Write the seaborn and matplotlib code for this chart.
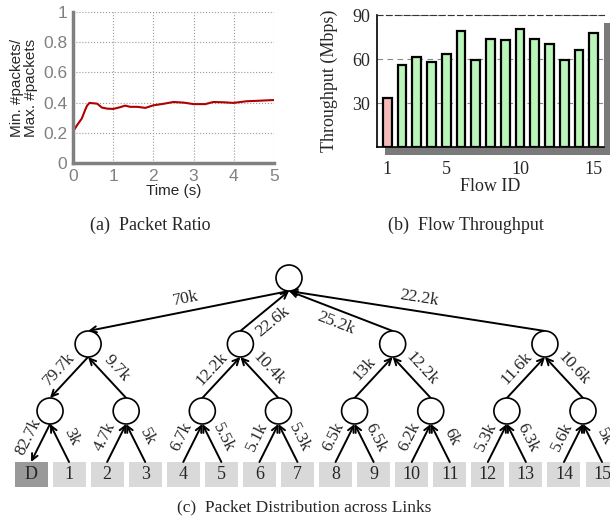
import numpy as np
import seaborn as sns
import matplotlib.pyplot as plt
from matplotlib.patches import Circle, Rectangle


# (a) min/max packet ratio over time
time_s = [0, 0.1, 0.22, 0.3, 0.35, 0.41, 0.6, 0.72, 0.85, 1.0, 1.15, 1.3, 1.42, 1.6,
          1.8, 2.0, 2.25, 2.5, 2.75, 3.0, 3.29, 3.49, 3.75, 3.99, 4.32, 4.6, 5.0]
ratio = [0.208, 0.25, 0.295, 0.35, 0.38, 0.398, 0.393, 0.367, 0.36, 0.358, 0.368, 0.38, 0.372, 0.372,
         0.365, 0.382, 0.392, 0.404, 0.4, 0.39, 0.39, 0.404, 0.402, 0.398, 0.409, 0.412, 0.417]

# (b) throughput per flow
flow_id = list(range(1, 16))
throughput = [33.5, 55.7, 61.6, 57.7, 63.4, 79.3, 59.5, 73.6, 72.7, 80.7, 73.6, 70.2, 59.3, 66.1, 77.7]

# (c) packets per link of the tree (left to right on each level)
leaf_names = ['D'] + [str(i) for i in range(1, 16)]
leaf_links = ['82.7k', '3k', '4.7k', '5k', '6.7k', '5.5k', '5.1k', '5.3k',
              '6.5k', '6.5k', '6.2k', '6k', '5.3k', '6.3k', '5.6k', '5k']
mid_links = ['79.7k', '9.7k', '12.2k', '10.4k', '13k', '12.2k', '11.6k', '10.6k']
top_links = ['70k', '22.6k', '25.2k', '22.2k']
top_label_side = ['out', 'in', 'in', 'out']


sns.set_style('white')
plt.rcParams['font.family'] = ['Liberation Serif', 'DejaVu Serif']

W, H = 610, 529
fig = plt.figure(figsize=(W / 100, H / 100), dpi=100)


#=====================================================================================================
# (c) tree, drawn on a canvas in pixel units
axc = fig.add_axes([0, 0, 1, 1], zorder=0)
axc.set_xlim(0, W)
axc.set_ylim(H, 0)
axc.axis('off')

root_x, root_y = 289, 278
lvl1_y, lvl2_y = 344, 411
node_r = 13
box_top, box_h, box_w = 462, 25, 33

leaf_x = 31 + 38.07 * np.arange(len(leaf_names))
lvl2_x = leaf_x.reshape(-1, 2).mean(axis=1)
lvl1_x = lvl2_x.reshape(-1, 2).mean(axis=1)


def link(parent, child, text, down, side='out', off=13):
    # parent: bottom point of upper node, child: top point of lower node
    start, end = (parent, child) if down else (child, parent)
    axc.annotate('', xy=end, xytext=start,
                 arrowprops=dict(arrowstyle='->,head_length=0.45,head_width=0.22',
                                 lw=1.4, color='black', shrinkA=0, shrinkB=0), zorder=2)
    dx, dy = child[0] - parent[0], child[1] - parent[1]
    L = np.hypot(dx, dy)
    nx, ny = -dy / L, dx / L
    if ny > 0:
        nx, ny = -nx, -ny
    if side == 'in':
        nx, ny = -nx, -ny
    mx = (parent[0] + child[0]) / 2 + nx * off
    my = (parent[1] + child[1]) / 2 + ny * off
    ang = np.degrees(np.arctan2(-dy, dx))
    if ang > 90:
        ang -= 180
    elif ang < -90:
        ang += 180
    axc.text(mx, my, text, rotation=ang, rotation_mode='anchor',
             ha='center', va='center', fontsize=12.5)


for i, x in enumerate(leaf_x):
    axc.add_patch(Rectangle((x - box_w / 2, box_top), box_w, box_h, facecolor='#999999' if i == 0 else '#d9d9d9',
                            edgecolor='none', zorder=1))
    axc.text(x, box_top + box_h / 2, leaf_names[i], ha='center', va='center', fontsize=13)
    p = i // 2
    link((lvl2_x[p], lvl2_y + node_r), (x, box_top), leaf_links[i], down=(i == 0))

for i, x in enumerate(lvl2_x):
    p = i // 2
    link((lvl1_x[p], lvl1_y + node_r), (x, lvl2_y - node_r), mid_links[i], down=(i == 0))

for i, x in enumerate(lvl1_x):
    link((root_x, root_y + node_r), (x, lvl1_y - node_r), top_links[i], down=(i == 0),
         side=top_label_side[i])

for xs, y in [(lvl2_x, lvl2_y), (lvl1_x, lvl1_y), ([root_x], root_y)]:
    for x in xs:
        axc.add_patch(Circle((x, y), node_r, facecolor='white', edgecolor='black', lw=1.2, zorder=3))


#=====================================================================================================
# (a) packet ratio
ax_a = fig.add_axes([73 / W, 1 - 163 / H, 201 / W, 151 / H], zorder=2)
sns.lineplot(x=time_s, y=ratio, ax=ax_a, color='#b00000', lw=1.5)
ax_a.set_xlim(0, 5)
ax_a.set_ylim(0, 1)
ax_a.set_xticks(range(6))
ax_a.set_yticks([0, 0.2, 0.4, 0.6, 0.8, 1])
ax_a.set_yticklabels(['0', '0.2', '0.4', '0.6', '0.8', '1'])
ax_a.grid(True, ls=':', color='#999999', lw=0.8)
for s in ['top', 'right']:
    ax_a.spines[s].set_visible(False)
for s in ['left', 'bottom']:
    ax_a.spines[s].set_color('#808080')
    ax_a.spines[s].set_linewidth(2.5)
ax_a.tick_params(direction='in', length=4, width=1, color='#808080', labelcolor='#808080',
                 labelsize=12.5, pad=4)
for lab in ax_a.get_xticklabels() + ax_a.get_yticklabels():
    lab.set_family('Liberation Sans')
ax_a.set_xlabel('Time (s)', family='Liberation Sans', fontsize=11, labelpad=0)
ax_a.set_ylabel('Min. #packets/\nMax. #packets', family='Liberation Sans', fontsize=11, linespacing=1.0)
ax_a.yaxis.set_label_coords(-0.174, 0.5)


#=====================================================================================================
# (b) flow throughput, with drop shadow
bx, by, bw, bh = 377 / W, 1 - 147 / H, 227 / W, 132 / H
fig.patches.append(Rectangle((bx + 8 / W, by - 8 / H), bw, bh, transform=fig.transFigure,
                             facecolor='#7a7a7a', edgecolor='none', zorder=1))
ax_b = fig.add_axes([bx, by, bw, bh], zorder=2)
group = ['low' if v == min(throughput) else 'rest' for v in throughput]
sns.barplot(x=flow_id, y=throughput, hue=group, palette={'low': '#ffb0b0', 'rest': '#b0ffb0'},
            native_scale=True, width=0.6, dodge=False, edgecolor='black', linewidth=1.6,
            legend=False, ax=ax_b)
ax_b.set_xlim(0.3, 15.7)
ax_b.set_ylim(0, 90)
ax_b.set_xticks([1, 5, 10, 15])
ax_b.set_yticks([30, 60, 90])
ax_b.grid(True, axis='y', ls=(0, (5, 4)), color='#888888', lw=0.8)
ax_b.spines['right'].set_visible(False)
ax_b.spines['top'].set_linestyle((0, (5, 3)))
ax_b.spines['top'].set_color('#333333')
for s in ['left', 'bottom']:
    ax_b.spines[s].set_color('black')
    ax_b.spines[s].set_linewidth(1.2)
ax_b.tick_params(axis='both', length=0, labelsize=13)
ax_b.tick_params(axis='x', pad=10)
ax_b.tick_params(axis='y', pad=5)
ax_b.set_xlabel('Flow ID', fontsize=13, labelpad=0)
ax_b.set_ylabel('Throughput (Mbps)', fontsize=13)
ax_b.yaxis.set_label_coords(-0.172, 0.5)


#=====================================================================================================
# captions
fig.text(150 / W, 1 - 225 / H, '(a)  Packet Ratio', ha='center', va='center', fontsize=13)
fig.text(466 / W, 1 - 225 / H, '(b)  Flow Throughput', ha='center', va='center', fontsize=13)
fig.text(304 / W, 1 - 507 / H, '(c)  Packet Distribution across Links', ha='center', va='center', fontsize=12.5)

fig.savefig('out.png', dpi=100)
